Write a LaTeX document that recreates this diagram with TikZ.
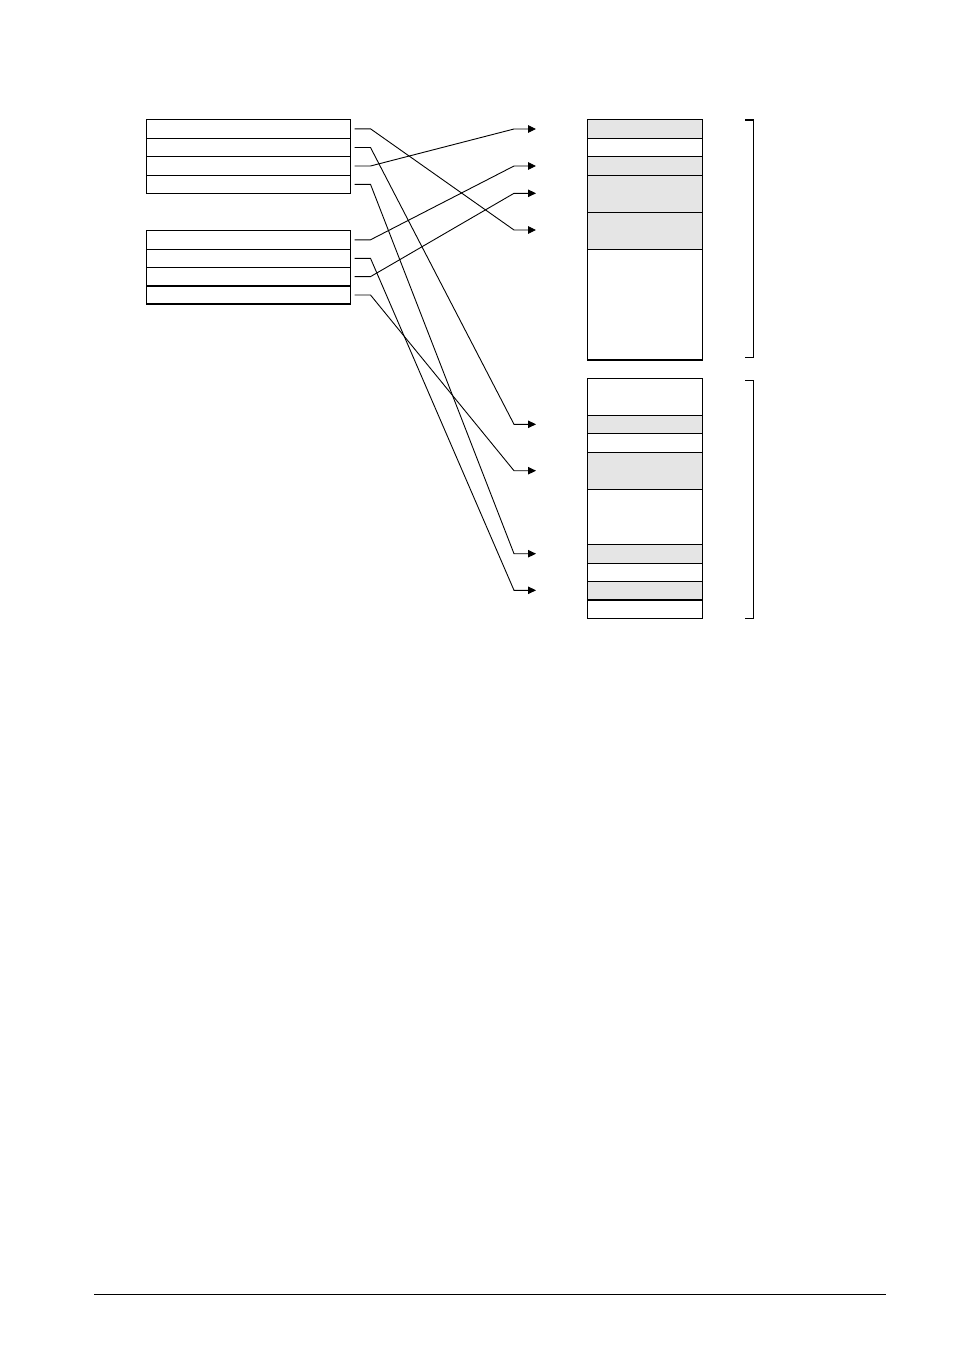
\documentclass[tikz,border=0pt]{standalone}
\usetikzlibrary{arrows.meta}
\begin{document}
\begin{tikzpicture}[x=1pt,y=-1pt,
  cell/.style={draw=black,line width=1.1pt,inner sep=0pt,outer sep=0pt,anchor=north west},
  shade/.style={cell,fill=gray!20},
  link/.style={line width=0.9pt,-{Triangle[length=8pt,width=7.5pt]}},
  brack/.style={line width=1.1pt}]
\useasboundingbox (0,0) rectangle (954,1346);
% left block 1
\foreach \n/\t/\b in {a1/119.3/138.3,a2/138.3/156.7,a3/156.7/175.3,a4/175.3/193.3,
                       b1/230.3/249.3,b2/249.3/267.3,b3/267.3/286,b4/286/304}{
  \pgfmathsetmacro\h{\b-\t}
  \node[cell,minimum width=204pt,minimum height=\h pt] (\n) at (146.5,\t) {};
}
% right column top
\foreach \n/\t/\b/\s in {r1/119.3/138.3/shade,r2/138.3/156.7/cell,r3/156.7/175.3/shade,
   r4/175.3/212.7/shade,r5/212.7/249.3/shade,r6/249.3/360/cell,
   s1/378.3/415.3/cell,s2/415.3/433.3/shade,s3/433.3/452.3/cell,s4/452.3/489.3/shade,
   s5/489.3/544.3/cell,s6/544.3/563.3/shade,s7/563.3/581.3/cell,s8/581.3/600/shade,s9/600/618.3/cell}{
  \pgfmathsetmacro\h{\b-\t}
  \node[\s,minimum width=115pt,minimum height=\h pt] (\n) at (587.3,\t) {};
}
% brackets
\coordinate (k1) at (745,120); \coordinate (k2) at (753.3,120);
\coordinate (k3) at (753.3,357.3); \coordinate (k4) at (745,357.3);
\draw[brack] (k1) -- (k2) -- (k3) -- (k4);
\coordinate (m1) at (745,380.7); \coordinate (m2) at (753.3,380.7);
\coordinate (m3) at (753.3,618.3); \coordinate (m4) at (745,618.3);
\draw[brack] (m1) -- (m2) -- (m3) -- (m4);
% arrow targets
\foreach \n/\y in {t1/129,t2/166,t3/193.3,t4/230,u1/424.3,u2/470.7,u3/553.7,u4/590.3}{
  \coordinate (\n) at (536,\y);
}
% connectors
\foreach \s/\e in {a1/t4,a2/u1,a3/t1,a4/u3,b1/t2,b2/u4,b3/t3,b4/u2}{
  \draw[link] ([xshift=4pt]\s.east) -- ([xshift=20pt]\s.east) -- ([xshift=-22pt]\e) -- (\e);
}
% footer line
\coordinate (f1) at (94,1294.3); \coordinate (f2) at (886,1294.3);
\draw[line width=1pt] (f1) -- (f2);
\end{tikzpicture}
\end{document}
